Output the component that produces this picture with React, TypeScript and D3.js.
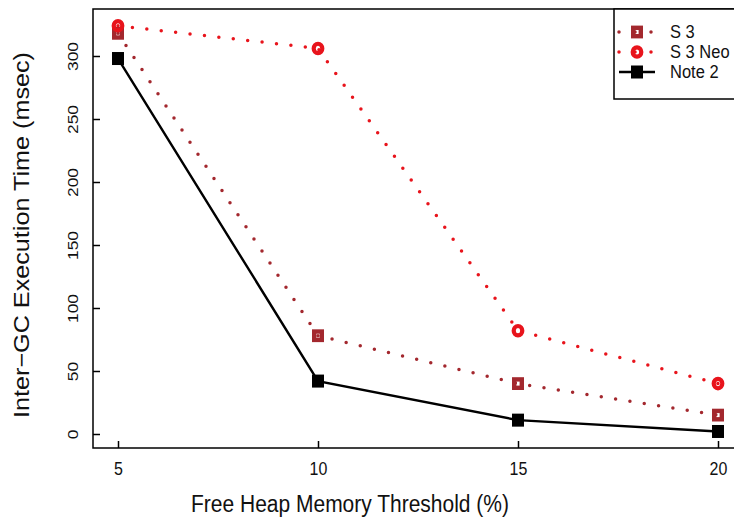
import React, { useRef, useEffect } from 'react'
import * as d3 from 'd3'

const thresholds = [5, 10, 15, 20]
const s3 = [318, 78, 40, 15]
const s3Neo = [324, 306, 82, 40]
const note2 = [298, 42, 11, 2]
const yTicks = [0, 50, 100, 150, 200, 250, 300]
const seriesNames = ['S 3', 'S 3 Neo', 'Note 2']

const W = 734
const H = 522
const box = { left: 93, top: 9, right: 760, bottom: 448 }
const font = '"Liberation Sans", Arial, sans-serif'
const stretch = 1.12 // the source picture is a bit taller than wide

export default function App() {
  const ref = useRef<SVGSVGElement>(null)

  useEffect(() => {
    const svg = d3.select(ref.current)
    svg.selectAll('*').remove()

    const x = d3.scaleLinear().domain([5, 20]).range([118, 718])
    const y = d3.scaleLinear().domain([0, 300]).range([434, 56])

    const g = svg.append('g')

    // plot box
    g.append('rect')
      .attr('x', box.left).attr('y', box.top)
      .attr('width', box.right - box.left).attr('height', box.bottom - box.top)
      .attr('fill', 'none').attr('stroke', '#000').attr('stroke-width', 1.5)

    // x ticks (inward)
    const xAx = g.append('g').attr('transform', `translate(0,${box.bottom})`)
      .call(d3.axisBottom(x).tickValues(thresholds).tickSizeInner(-7).tickSizeOuter(0).tickFormat(d3.format('d')))
    xAx.select('.domain').remove()
    xAx.selectAll('line').attr('stroke-width', 1.5)
    xAx.selectAll('.tick text')
      .attr('font-family', font).attr('font-size', 16).attr('fill', '#111')
      .attr('y', 0).attr('dy', 0)
      .attr('transform', `translate(0,27) scale(1,${stretch})`)

    // y ticks (inward), labels rotated like R
    const yAx = g.append('g').attr('transform', `translate(${box.left},0)`)
      .call(d3.axisLeft(y).tickValues(yTicks).tickSizeInner(-7).tickSizeOuter(0).tickFormat(d3.format('d')))
    yAx.select('.domain').remove()
    yAx.selectAll('line').attr('stroke-width', 1.5)
    yAx.selectAll('.tick text')
      .attr('font-family', font).attr('font-size', 15.5).attr('fill', '#111')
      .attr('text-anchor', 'middle').attr('x', 0).attr('y', 0).attr('dy', 0)
      .attr('transform', `translate(-15,0) rotate(-90) scale(${stretch},1)`)

    // axis titles
    g.append('text').attr('transform', `translate(350,512) scale(1,${stretch})`)
      .attr('text-anchor', 'middle').attr('font-family', font).attr('font-size', 21).attr('fill', '#111')
      .text('Free Heap Memory Threshold (%)')
    g.append('text').attr('transform', `translate(29,235) rotate(-90) scale(${stretch},1)`)
      .attr('text-anchor', 'middle').attr('font-family', font).attr('font-size', 22.5).attr('fill', '#111')
      .text('Inter\u2212GC Execution Time (msec)')

    const line = d3.line<number>().x((_, i) => x(thresholds[i])).y(d => y(d))

    const brown = '#a3282e'
    const red = '#e8141c'

    // S 3
    g.append('path').attr('d', line(s3)).attr('fill', 'none').attr('stroke', brown)
      .attr('stroke-width', 3.5).attr('stroke-linecap', 'round').attr('stroke-dasharray', '0 14.5')
    g.selectAll('.s3').data(s3).enter().append('rect')
      .attr('x', (_, i) => x(thresholds[i]) - 3.8).attr('y', d => y(d) - 4.2)
      .attr('width', 7.6).attr('height', 8.4)
      .attr('fill', 'none').attr('stroke', brown).attr('stroke-width', 4.4)

    // S 3 Neo
    g.append('path').attr('d', line(s3Neo)).attr('fill', 'none').attr('stroke', red)
      .attr('stroke-width', 3.5).attr('stroke-linecap', 'round').attr('stroke-dasharray', '0 14.5')
    g.selectAll('.neo').data(s3Neo).enter().append('ellipse')
      .attr('cx', (_, i) => x(thresholds[i])).attr('cy', d => y(d)).attr('rx', 4.3).attr('ry', 4.7)
      .attr('fill', 'none').attr('stroke', red).attr('stroke-width', 4.2)

    // Note 2
    g.append('path').attr('d', line(note2)).attr('fill', 'none').attr('stroke', '#000').attr('stroke-width', 2.4)
    g.selectAll('.n2').data(note2).enter().append('rect')
      .attr('x', (_, i) => x(thresholds[i]) - 6).attr('y', d => y(d) - 6.5)
      .attr('width', 12).attr('height', 13).attr('fill', '#000')

    // legend
    const lg = g.append('g')
    lg.append('rect').attr('x', 614).attr('y', box.top).attr('width', 160).attr('height', 90)
      .attr('fill', '#fff').attr('stroke', '#000').attr('stroke-width', 1.5)
    const ly = [32, 52, 72]
    const lx0 = 619
    const lx1 = 655
    const lxm = 637
    // S 3 row
    lg.append('line').attr('x1', lx0).attr('x2', lx1 + 2).attr('y1', ly[0]).attr('y2', ly[0])
      .attr('stroke', brown).attr('stroke-width', 3.5).attr('stroke-linecap', 'round').attr('stroke-dasharray', '0 16')
    lg.append('rect').attr('x', lxm - 3.8).attr('y', ly[0] - 4.2).attr('width', 7.6).attr('height', 8.4)
      .attr('fill', 'none').attr('stroke', brown).attr('stroke-width', 4.4)
    // S 3 Neo row
    lg.append('line').attr('x1', lx0).attr('x2', lx1 + 2).attr('y1', ly[1]).attr('y2', ly[1])
      .attr('stroke', red).attr('stroke-width', 3.5).attr('stroke-linecap', 'round').attr('stroke-dasharray', '0 16')
    lg.append('ellipse').attr('cx', lxm).attr('cy', ly[1]).attr('rx', 4.3).attr('ry', 4.7)
      .attr('fill', 'none').attr('stroke', red).attr('stroke-width', 4.2)
    // Note 2 row
    lg.append('line').attr('x1', lx0).attr('x2', lx1).attr('y1', ly[2]).attr('y2', ly[2])
      .attr('stroke', '#000').attr('stroke-width', 2.4)
    lg.append('rect').attr('x', lxm - 6).attr('y', ly[2] - 6.5).attr('width', 12).attr('height', 13).attr('fill', '#000')

    lg.selectAll('.lt').data(seriesNames).enter().append('text')
      .attr('transform', (_, i) => `translate(670,${ly[i] + 6}) scale(1,${stretch})`)
      .attr('font-family', font).attr('font-size', 16.5).attr('fill', '#111')
      .text(d => d)
  }, [])

  return (
    <svg ref={ref} width={W} height={H} style={{ position: 'absolute', left: 0, top: 0, background: '#fff' }} />
  )
}
